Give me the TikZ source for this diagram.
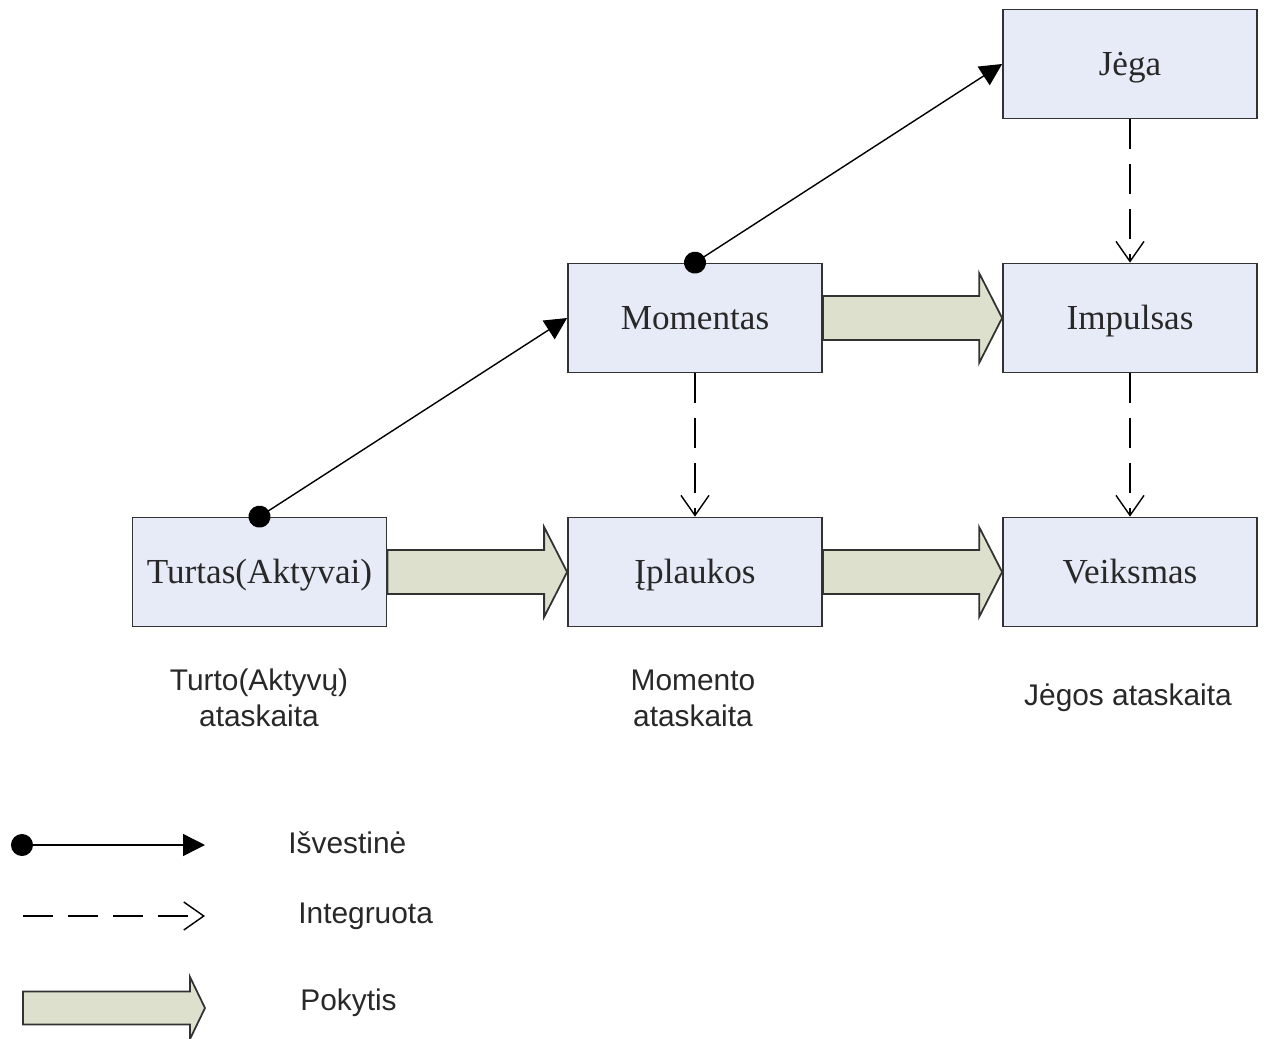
\documentclass[tikz,border=0pt]{standalone}
\usepackage{fontspec}
\setmainfont{Liberation Serif}
\setsansfont{Liberation Sans}
\usepackage{xcolor}
\usepackage{tikz}
\usetikzlibrary{arrows.meta,calc}
\definecolor{boxfill}{RGB}{230, 235, 247}
\definecolor{boxline}{RGB}{50, 50, 50}
\definecolor{pokfill}{RGB}{220, 224, 204}
\definecolor{textgray}{RGB}{40, 40, 40}

\tikzset{
  blokas/.style={draw=boxline, fill=boxfill, line width=1pt, minimum width=5.08cm,
    minimum height=2.18cm, inner sep=0pt, text height=0.47cm, text depth=0pt,
    text=textgray, font=\fontsize{20}{24}\selectfont},
  zyme/.style={align=center, text=textgray, font=\sffamily\fontsize{17}{20.5}\selectfont},
  legzyme/.style={anchor=west, inner sep=0pt, text=textgray, font=\sffamily\fontsize{17}{20.5}\selectfont},
  isvestine/.style={line width=0.8pt, shorten <=-0.22cm,
    {Circle[length=0.44cm]}-{Triangle[length=0.44cm,width=0.44cm]}},
  integruota/.style={line width=0.8pt, dash pattern=on 0.6cm off 0.3cm,
    -{Straight Barb[length=0.4cm,width=0.56cm,line width=0.8pt]}},
  pokytis/.style={draw=boxline, fill=pokfill, line width=1pt, line join=miter}
}

\begin{document}
\begin{tikzpicture}
    \useasboundingbox (0,0) rectangle (25.28,-20.78);

    % Blocks
    \node[blokas] (jega) at (22.6,-1.28) {Jėga};
    \node[blokas] (momentas) at (13.9,-6.36) {Momentas};
    \node[blokas] (impulsas) at (22.6,-6.36) {Impulsas};
    \node[blokas] (turtas) at (5.19,-11.44) {Turtas(Aktyvai)};
    \node[blokas] (iplaukos) at (13.9,-11.44) {Įplaukos};
    \node[blokas] (veiksmas) at (22.6,-11.44) {Veiksmas};

    % Change arrows
    \foreach \a/\b in {turtas/iplaukos, iplaukos/veiksmas, momentas/impulsas}
        \draw[pokytis] ($(\a.east)+(0,0.44)$) -- ($(\b.west)+(-0.46,0.44)$)
            -- ($(\b.west)+(-0.46,0.9)$) -- (\b.west) -- ($(\b.west)+(-0.46,-0.9)$)
            -- ($(\b.west)+(-0.46,-0.44)$) -- ($(\a.east)+(0,-0.44)$) -- cycle;

    % Derivatives
    \draw[isvestine] (turtas.north) -- (momentas.west);
    \draw[isvestine] (momentas.north) -- (jega.west);

    % Integrals
    \draw[integruota] (jega.south) -- (impulsas.north);
    \draw[integruota] (momentas.south) -- (iplaukos.north);
    \draw[integruota] (impulsas.south) -- (veiksmas.north);

    % Reports
    \node[zyme] (turtozyme) at (5.18,-13.96) {Turto(Aktyvų)\\ataskaita};
    \node[zyme] (momentozyme) at (13.86,-13.96) {Momento\\ataskaita};
    \node[zyme] (jegoszyme) at (22.56,-13.96) {Jėgos ataskaita};

    % Legend
    \coordinate (l1a) at (0.44,-16.9);
    \coordinate (l1b) at (4.1,-16.9);
    \coordinate (l2a) at (0.46,-18.32);
    \coordinate (l2b) at (4.1,-18.32);
    \coordinate (l3a) at (0.46,-20.16);
    \coordinate (l3b) at (4.1,-20.16);
    \draw[isvestine] (l1a) -- (l1b);
    \draw[integruota] (l2a) -- (l2b);
    \draw[pokytis] ($(l3a)+(0,0.33)$) -- ($(l3b)+(-0.3,0.33)$) -- ($(l3b)+(-0.3,0.62)$)
        -- (l3b) -- ($(l3b)+(-0.3,-0.62)$) -- ($(l3b)+(-0.3,-0.33)$)
        -- ($(l3a)+(0,-0.33)$) -- cycle;
    \node[legzyme] (leg1) at (5.76,-16.86) {Išvestinė};
    \node[legzyme] (leg2) at (5.96,-18.32) {Integruota};
    \node[legzyme] (leg3) at (6.0,-20.06) {Pokytis};
\end{tikzpicture}
\end{document}
